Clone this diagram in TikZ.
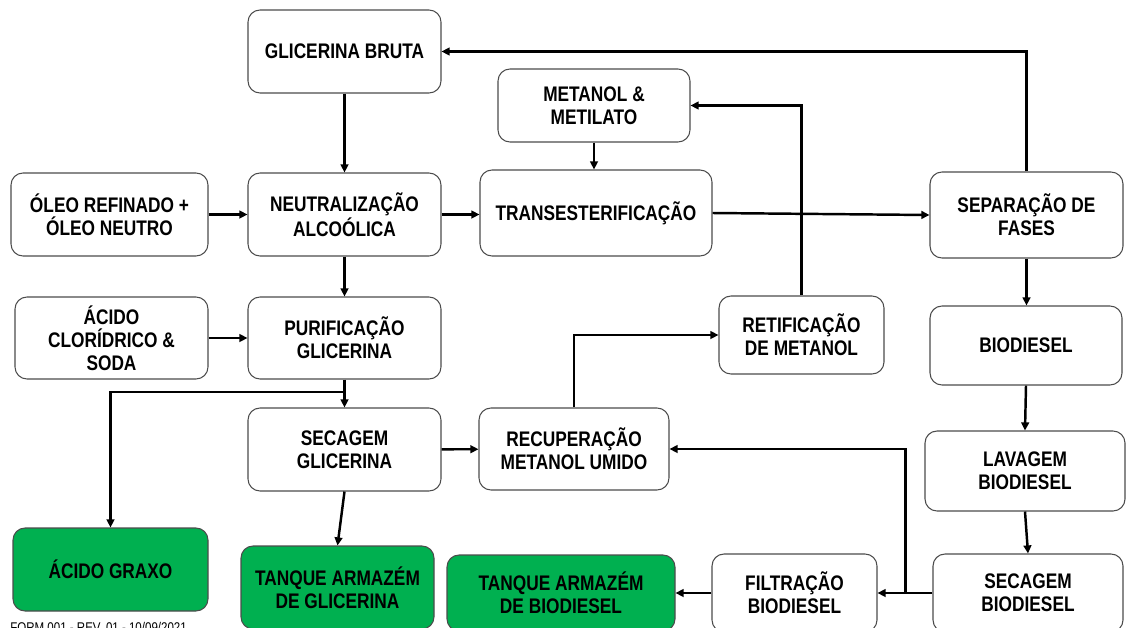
\documentclass[tikz,border=0pt]{standalone}
\usepackage{fontspec}
\newfontfamily\flowfont{Liberation Sans}[FakeStretch=0.82]
\usepackage{tikz}
\usetikzlibrary{arrows.meta}
\definecolor{tankgreen}{RGB}{0,176,80}
\tikzset{
  % --- process blocks --------------------------------------------------------
  blk/.style={rectangle,rounded corners=2.4mm,draw=black!70,line width=0.6pt,
              align=center,inner sep=0pt,
              font=\flowfont\bfseries\fontsize{12}{13}\selectfont},
  % --- flow lines ------------------------------------------------------------
  flow/.style={-{Triangle[length=4.6pt,width=4.4pt]},line width=1.4pt,black},
  formlab/.style={font=\flowfont\fontsize{8}{9}\selectfont,inner sep=0pt,
                  anchor=north west},
}

\begin{document}
\begin{tikzpicture}[x=0.2mm, y=-0.2mm]
  \def\u{0.2mm}        % one pixel of the sheet
  \useasboundingbox (0,0) rectangle (1126,627);

  % {name}{cx}{cy}{w}{h}{fill}{label} -- centres and sizes in sheet pixels
  \foreach \nm/\cx/\cy/\w/\h/\fc/\txt in {%
      bruta/344.5/51.5/193/83/white/{GLICERINA BRUTA},
      metanol/594/105.5/192/73/white/{METANOL \&\\METILATO},
      oleo/109.5/214.5/197/83/white/{ÓLEO REFINADO +\\ÓLEO NEUTRO},
      neutra/344.5/214.5/193/83/white/{NEUTRALIZAÇÃO\\ALCOÓLICA},
      trans/596/213/232/86/white/{TRANSESTERIFICAÇÃO},
      separa/1026.5/215/193/86/white/{SEPARAÇÃO DE\\FASES},
      acido/111.5/338/193/82/white/{ÁCIDO\\CLORÍDRICO \&\\SODA},
      purif/344.5/338/193/82/white/{PURIFICAÇÃO\\GLICERINA},
      retif/801.5/335/165/78/white/{RETIFICAÇÃO\\DE METANOL},
      biod/1026/345.5/192/79/white/{BIODIESEL},
      secgli/344.5/449.5/193/83/white/{SECAGEM\\GLICERINA},
      recup/574/449/190/82/white/{RECUPERAÇÃO\\METANOL UMIDO},
      lavag/1025/471/200/80/white/{LAVAGEM\\BIODIESEL},
      graxo/110.5/569.5/195/83/tankgreen/{ÁCIDO GRAXO},
      tqgli/337.5/587.5/193/83/tankgreen/{TANQUE ARMAZÉM\\DE GLICERINA},
      tqbio/561/593/228/76/tankgreen/{TANQUE ARMAZÉM\\DE BIODIESEL},
      filtr/794.5/593/165/78/white/{FILTRAÇÃO\\BIODIESEL},
      secbio/1028/593/190/78/white/{SECAGEM\\BIODIESEL}}
  {
    \node[blk,fill=\fc,minimum width=\w*\u,minimum height=\h*\u]
         (\nm) at (\cx,\cy) {\txt};
  }

  % glycerine line
  \draw[flow] (bruta) -- (neutra);
  \draw[flow] (oleo) -- (neutra);
  \draw[flow] (neutra.east) -- (neutra.east -| trans.west);
  \draw[flow] (metanol.south) -- (metanol.south |- trans.north);
  \draw[flow] (trans.east) -- (separa.west);
  \draw[flow] (separa.north) |- (bruta.east);
  \draw[flow] (retif.north) |- (metanol.east);
  \draw[flow] (neutra) -- (purif);
  \draw[flow] (acido) -- (purif);
  \draw[flow] (purif) -- (secgli);
  \coordinate (split) at (344.5,392);
  \draw[flow] (split) -| (graxo.north);
  \draw[flow] (secgli.south) -- (tqgli.north);
  \draw[flow] (secgli) -- (recup);
  \draw[flow] (recup.north) |- (retif.west);

  % biodiesel line
  \draw[flow] (separa.south) -- (separa.south |- biod.north);
  \draw[flow] (biod.south) -- (lavag.north);
  \draw[flow] (lavag.south) -- (secbio.north);
  \draw[flow] (secbio) -- (filtr);
  \coordinate (join) at (905.5,593);
  \draw[flow] (join) |- (recup.east);
  \draw[flow] (filtr) -- (tqbio);

  \node[formlab] (form) at (10,622) {FORM 001 - REV. 01 - 10/09/2021};
\end{tikzpicture}
\end{document}
